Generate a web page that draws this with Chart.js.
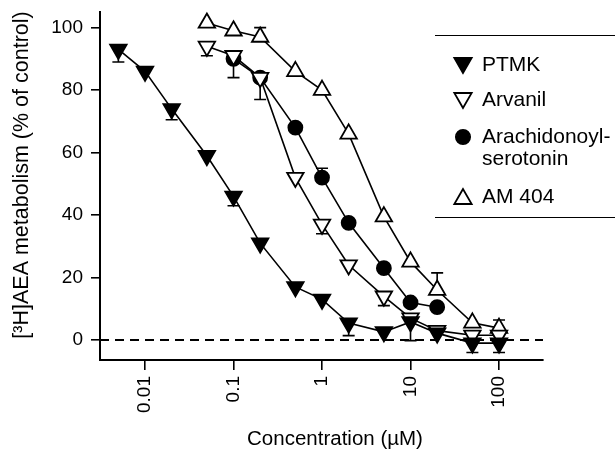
<!DOCTYPE html>
<html><head><meta charset="utf-8">
<script src="https://cdn.jsdelivr.net/npm/chart.js@4/dist/chart.umd.min.js"></script>
<style>html,body{margin:0;padding:0;background:#fff}#wrap{width:615px;height:450px;position:relative}</style>
</head><body><div id="wrap"><canvas id="c" width="615" height="450"></canvas></div>
<script>
const xTicks=[0.01,0.1,1,10,100];
const yTicks=[0,20,40,60,80,100];
const ptmkX=[0.005,0.01,0.02,0.05,0.1,0.2,0.5,1,2,5,10,20,50,100];
const ptmkY=[93,86,74,59,46,31,17,13,5.4,2.6,5.8,2.2,-1,-1];
const ptmkErr=[-4,0,-3.5,0,-3,0,0,0,-4,0,-6,0,-3,-3];
const arvX=[0.05,0.1,0.2,0.5,1,2,5,10,20,50,100];
const arvY=[94,91,84,52,37,24,14,7,3,1.5,1.5];
const arvErr=[-3,-7,-7,0,-3,0,-3,0,0,0,0];
const serX=[0.1,0.2,0.5,1,2,5,10,20];
const serY=[90,84,68,52,37.5,23,12,10.5];
const serErr=[0,0,0,3,0,0,0,0];
const amX=[0.05,0.1,0.2,0.5,1,2,5,10,20,50,100];
const amY=[101.5,99,97,86,80,66,39.5,25,16,5.5,3.8];
const amErr=[0,0,3,0,0,0,0,0,5.5,0,2.6];
const seriesNames=['PTMK','Arvanil','Arachidonoyl-|serotonin','AM 404'];
const xTitle='Concentration (µM)';
const yTitle='[³H]AEA metabolism (% of control)';
const xRange=[0.0031,314];
const yRange=[-6.4,105];

const FONT="'Liberation Sans', Arial, Helvetica, sans-serif";
Chart.defaults.font.family=FONT;
Chart.defaults.font.size=19;
Chart.defaults.color='#000';

function pts(xs,ys){return xs.map((x,i)=>({x:x,y:ys[i]}));}

const styles=[
  {style:'triangle',rot:180,fill:'#000',r:9.5},
  {style:'triangle',rot:180,fill:'#fff',r:9.5},
  {style:'circle',rot:0,fill:'#000',r:7},
  {style:'triangle',rot:0,fill:'#fff',r:9.5}
];
const allX=[ptmkX,arvX,serX,amX], allY=[ptmkY,arvY,serY,amY], allE=[ptmkErr,arvErr,serErr,amErr];

const datasets=allX.map((xs,i)=>({
  label:seriesNames[i],
  data:pts(xs,allY[i]),
  errors:allE[i],
  order:i,
  borderColor:'#000',
  borderWidth:1.6,
  backgroundColor:styles[i].fill,
  pointStyle:styles[i].style,
  pointRotation:styles[i].rot,
  pointRadius:styles[i].r,
  pointBorderWidth:1.8,
  pointBorderColor:'#000',
  pointBackgroundColor:styles[i].fill,
  tension:0,
  clip:false
}));
datasets.push({
  label:'zero',order:9,
  data:[{x:xRange[0],y:0},{x:xRange[1],y:0}],
  borderColor:'#000',borderWidth:2,borderDash:[9,6],pointRadius:0,clip:false
});

const errorBars={
  id:'errorBars',
  beforeDatasetsDraw(chart){
    const ctx=chart.ctx, xs=chart.scales.x, ys=chart.scales.y;
    ctx.save();ctx.strokeStyle='#000';ctx.lineWidth=1.6;
    chart.data.datasets.forEach(ds=>{
      if(!ds.errors)return;
      ds.data.forEach((p,i)=>{
        const e=ds.errors[i]; if(!e)return;
        const px=xs.getPixelForValue(p.x), py=ys.getPixelForValue(p.y), pe=ys.getPixelForValue(p.y+e);
        ctx.beginPath();ctx.moveTo(px,py);ctx.lineTo(px,pe);
        ctx.moveTo(px-6,pe);ctx.lineTo(px+6,pe);ctx.stroke();
      });
    });
    ctx.restore();
  }
};

function marker(ctx,st,x,y,r){
  ctx.beginPath();
  if(st.style==='circle'){ctx.arc(x,y,r*0.75,0,Math.PI*2);}
  else{
    const d=st.rot?1:-1;
    ctx.moveTo(x,y+d*r);ctx.lineTo(x-r*0.866,y-d*r*0.5);ctx.lineTo(x+r*0.866,y-d*r*0.5);ctx.closePath();
  }
  ctx.fillStyle=st.fill;ctx.fill();ctx.lineWidth=1.8;ctx.strokeStyle='#000';ctx.stroke();
}

const extras={
  id:'extras',
  afterDraw(chart){
    const ctx=chart.ctx;
    ctx.save();
    ctx.fillStyle='#000';
    ctx.font='20.5px '+FONT;ctx.textAlign='center';ctx.textBaseline='middle';
    ctx.fillText(xTitle,335,439);
    ctx.save();ctx.translate(22,175);ctx.rotate(-Math.PI/2);ctx.font='21.5px '+FONT;
    ctx.fillText(yTitle,0,0);ctx.restore();
    ctx.strokeStyle='#000';ctx.lineWidth=1;
    ctx.beginPath();ctx.moveTo(435,35.5);ctx.lineTo(615,35.5);ctx.moveTo(435,217.5);ctx.lineTo(615,217.5);ctx.stroke();
    const rows=[65,100,137,197];
    ctx.font='21px '+FONT;ctx.textAlign='left';
    seriesNames.forEach((n,i)=>{
      const st=styles[i], yy=rows[i];
      marker(ctx,st,463,yy+(st.style==='circle'?0:(st.rot?-2:2)),st.style==='circle'?9.5:10);
      ctx.fillStyle='#000';
      const parts=n.split('|');
      parts.forEach((t,k)=>ctx.fillText(t,482,yy+k*22));
    });
    ctx.restore();
  }
};

new Chart(document.getElementById('c'),{
  type:'line',
  data:{datasets:datasets},
  plugins:[errorBars,extras],
  options:{
    responsive:false,animation:false,
    layout:{padding:{top:12,right:72,left:0,bottom:0}},
    plugins:{legend:{display:false},tooltip:{enabled:false}},
    scales:{
      x:{type:'logarithmic',min:xRange[0],max:xRange[1],
        afterBuildTicks(s){s.ticks=xTicks.map(v=>({value:v}));},
        afterFit(s){s.height=90;s.paddingLeft=0;s.paddingRight=0;},
        border:{display:true,color:'#000',width:2},
        grid:{display:true,drawOnChartArea:false,drawTicks:true,tickLength:10,color:'#000',lineWidth:1.6},
        ticks:{autoSkip:false,minRotation:90,maxRotation:90,padding:6,font:{size:19},callback:v=>String(v)}
      },
      y:{type:'linear',min:yRange[0],max:yRange[1],
        afterBuildTicks(s){s.ticks=yTicks.map(v=>({value:v}));},
        afterFit(s){s.width=100;s.paddingTop=0;s.paddingBottom=0;},
        border:{display:true,color:'#000',width:2},
        grid:{display:true,drawOnChartArea:false,drawTicks:true,tickLength:9,color:'#000',lineWidth:1.6},
        ticks:{padding:8,font:{size:19},callback:v=>String(v)}
      }
    }
  }
});
</script></body></html>
